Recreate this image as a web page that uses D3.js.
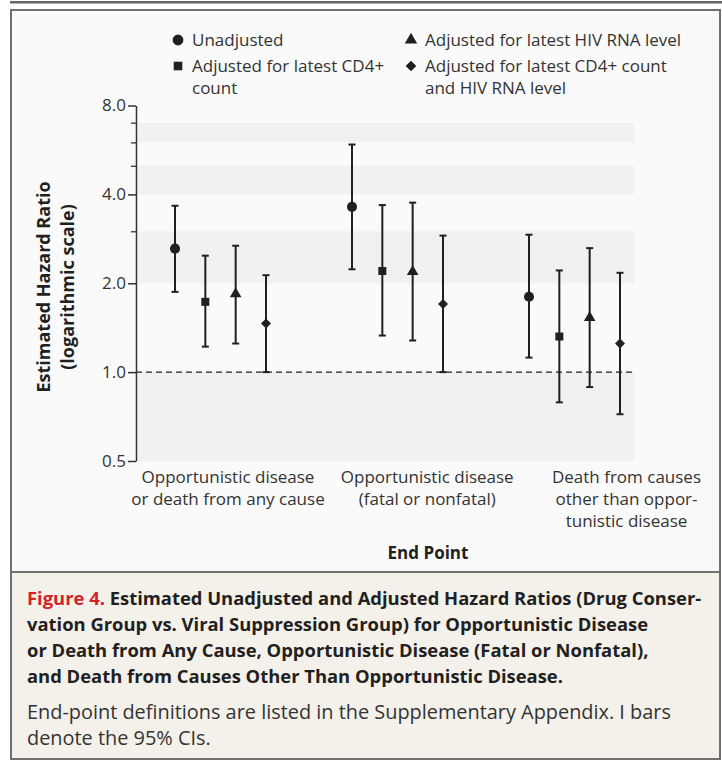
<!DOCTYPE html>
<html>
<head>
<meta charset="utf-8">
<script src="https://cdn.jsdelivr.net/npm/d3@7"></script>
<style>
  body { margin: 0; background: #fff; }
  svg { display: block; font-family: "Open Sans", Lato, sans-serif; }
</style>
</head>
<body>
<svg id="chart" width="722" height="761"></svg>
<script>
// end points (x categories), one array of lines per label
const endPoints = ["Opportunistic disease or death from any cause",
                   "Opportunistic disease (fatal or nonfatal)",
                   "Death from causes other than opportunistic disease"];
const endPointLines = [["Opportunistic disease", "or death from any cause"],
                       ["Opportunistic disease", "(fatal or nonfatal)"],
                       ["Death from causes", "other than oppor-", "tunistic disease"]];

const series = ["Unadjusted", "Adjusted for latest CD4+ count",
                "Adjusted for latest HIV RNA level",
                "Adjusted for latest CD4+ count and HIV RNA level"];

// hazard ratios and 95% CI, rows = end points, cols = series
const hr    = [[2.62, 1.73, 1.84, 1.46], [3.63, 2.20, 2.19, 1.70], [1.80, 1.32, 1.53, 1.25]];
const lower = [[1.87, 1.22, 1.25, 1.00], [2.23, 1.33, 1.28, 1.00], [1.12, 0.79, 0.89, 0.72]];
const upper = [[3.66, 2.48, 2.68, 2.13], [5.90, 3.68, 3.75, 2.90], [2.92, 2.21, 2.63, 2.17]];

const yTicks = [0.5, 1, 2, 4, 8];
const yMinor = [3, 5, 6, 7];
const bands = [[0.5, 1], [2, 3], [4, 5], [6, 7]];

const svg = d3.select("#chart");
const ink = "#231f20";

// frame + backgrounds
svg.append("rect").attr("x", 10).attr("y", 1).attr("width", 712).attr("height", 2.5).attr("fill", "#666");
svg.append("rect").attr("x", 11).attr("y", 10).attr("width", 709).attr("height", 562).attr("fill", "#fafafa");
svg.append("rect").attr("x", 11).attr("y", 572).attr("width", 709).attr("height", 187).attr("fill", "#f4f1eb");
svg.append("rect").attr("x", 11).attr("y", 10).attr("width", 709).attr("height", 749)
    .attr("fill", "none").attr("stroke", "#707070").attr("stroke-width", 2);
svg.append("line").attr("x1", 11).attr("x2", 720).attr("y1", 572).attr("y2", 572)
    .attr("stroke", "#707070").attr("stroke-width", 2);

// scales
const y = d3.scaleLog().base(2).domain([0.5, 8]).range([461, 105.5]);
const x0 = d3.scalePoint().domain(endPoints).range([220.5, 574.5]);
const x1 = d3.scalePoint().domain(series).range([-45.5, 45.5]);
const xl = d3.scalePoint().domain(endPoints).range([228, 626.5]);
const plotLeft = 138, plotRight = 634;

// shaded bands
svg.append("g").selectAll("rect").data(bands).join("rect")
    .attr("x", plotLeft).attr("width", plotRight - plotLeft)
    .attr("y", d => y(d[1])).attr("height", d => y(d[0]) - y(d[1]))
    .attr("fill", "#f0f1f3");

// reference line at 1.0
svg.append("line")
    .attr("x1", 136).attr("x2", plotRight).attr("y1", y(1)).attr("y2", y(1))
    .attr("stroke", ink).attr("stroke-width", 1.3).attr("stroke-dasharray", "6,4");

// y axis
const yAxis = svg.append("g").attr("transform", "translate(136,0)")
    .call(d3.axisLeft(y).tickValues(yTicks).tickFormat(d3.format(".1f")).tickSize(8).tickSizeOuter(0).tickPadding(2));
yAxis.select(".domain").attr("stroke", "#333").attr("stroke-width", 1.5);
yAxis.selectAll(".tick line").attr("stroke", "#333").attr("stroke-width", 1.5);
yAxis.selectAll(".tick text").attr("font-size", 17).attr("fill", "#333").attr("font-family", "Open Sans");
svg.append("g").attr("transform", "translate(136,0)")
    .call(d3.axisLeft(y).tickValues(yMinor).tickFormat("").tickSize(5))
    .call(g => g.select(".domain").remove())
    .selectAll(".tick line").attr("stroke", "#333").attr("stroke-width", 1.3);

// y title
const yTitle = svg.append("text").attr("transform", "translate(50,287) rotate(-90)")
    .attr("text-anchor", "middle").attr("font-weight", "bold").attr("font-size", 18).attr("fill", ink);
yTitle.append("tspan").attr("x", 0).attr("dy", 0).text("Estimated Hazard Ratio");
yTitle.append("tspan").attr("x", 0).attr("dy", 24).text("(logarithmic scale)");

// x labels
svg.append("g").selectAll("text").data(endPoints).join("text")
    .attr("text-anchor", "middle").attr("font-size", 17).attr("fill", "#333")
    .each(function (d, i) {
        d3.select(this).selectAll("tspan").data(endPointLines[i]).join("tspan")
            .attr("x", xl(d)).attr("y", (t, j) => 483 + j * 22).text(t => t);
    });
svg.append("text").attr("x", 428).attr("y", 559).attr("text-anchor", "middle")
    .attr("font-weight", "bold").attr("font-size", 17).attr("fill", ink).text("End Point");

// markers
const symbolOf = {
    [series[0]]: { type: d3.symbolCircle, size: 80, rot: 0 },
    [series[1]]: { type: d3.symbolSquare, size: 64, rot: 0 },
    [series[2]]: { type: d3.symbolTriangle, size: 58, rot: 0 },
    [series[3]]: { type: d3.symbolSquare, size: 50, rot: 45 }
};

const points = [];
endPoints.forEach((ep, i) => series.forEach((s, j) => {
    points.push({ ep, s, hr: hr[i][j], lo: lower[i][j], hi: upper[i][j] });
}));

const pg = svg.append("g").selectAll("g").data(points).join("g")
    .attr("transform", d => `translate(${x0(d.ep) + x1(d.s)},0)`);
pg.append("line").attr("y1", d => y(d.lo)).attr("y2", d => y(d.hi))
    .attr("stroke", ink).attr("stroke-width", 2);
pg.append("line").attr("x1", -3.5).attr("x2", 3.5).attr("y1", d => y(d.hi)).attr("y2", d => y(d.hi))
    .attr("stroke", ink).attr("stroke-width", 2);
pg.append("line").attr("x1", -3.5).attr("x2", 3.5).attr("y1", d => y(d.lo)).attr("y2", d => y(d.lo))
    .attr("stroke", ink).attr("stroke-width", 2);
pg.append("path")
    .attr("d", d => d3.symbol(symbolOf[d.s].type, symbolOf[d.s].size)())
    .attr("transform", d => `translate(0,${y(d.hr)}) rotate(${symbolOf[d.s].rot})`)
    .attr("fill", ink);

// legend
const legendPos = [[178, 40], [178, 66], [411, 40], [411, 66]];
const legendLines = [["Unadjusted"], ["Adjusted for latest CD4+", "count"],
                     ["Adjusted for latest HIV RNA level"],
                     ["Adjusted for latest CD4+ count", "and HIV RNA level"]];
const lg = svg.append("g").selectAll("g").data(series).join("g")
    .attr("transform", (d, i) => `translate(${legendPos[i][0]},${legendPos[i][1]})`);
lg.append("path")
    .attr("d", d => d3.symbol(symbolOf[d].type, symbolOf[d].size * 1.15)())
    .attr("transform", d => `rotate(${symbolOf[d].rot})`)
    .attr("fill", ink);
lg.append("text").attr("font-size", 17).attr("fill", "#333")
    .each(function (d, i) {
        d3.select(this).selectAll("tspan").data(legendLines[i]).join("tspan")
            .attr("x", 14).attr("y", (t, j) => 6 + j * 22).text(t => t);
    });

// caption
const capBold = ["Estimated Unadjusted and Adjusted Hazard Ratios (Drug Conser-",
                 "vation Group vs. Viral Suppression Group) for Opportunistic Disease",
                 "or Death from Any Cause, Opportunistic Disease (Fatal or Nonfatal),",
                 "and Death from Causes Other Than Opportunistic Disease."];
const capNote = ["End-point definitions are listed in the Supplementary Appendix. I bars",
                 "denote the 95% CIs."];
const cap = svg.append("g");
capBold.forEach((line, i) => {
    const t = cap.append("text").attr("x", 27).attr("y", 605 + i * 26)
        .attr("font-size", 18.4).attr("font-weight", "bold").attr("fill", ink);
    if (i === 0) t.append("tspan").attr("fill", "#d2232a").text("Figure 4. ");
    t.append("tspan").text(line);
});
capNote.forEach((line, i) => {
    cap.append("text").attr("x", 27).attr("y", 719 + i * 26)
        .attr("font-size", 19.9).attr("fill", "#333").text(line);
});
</script>
</body>
</html>
